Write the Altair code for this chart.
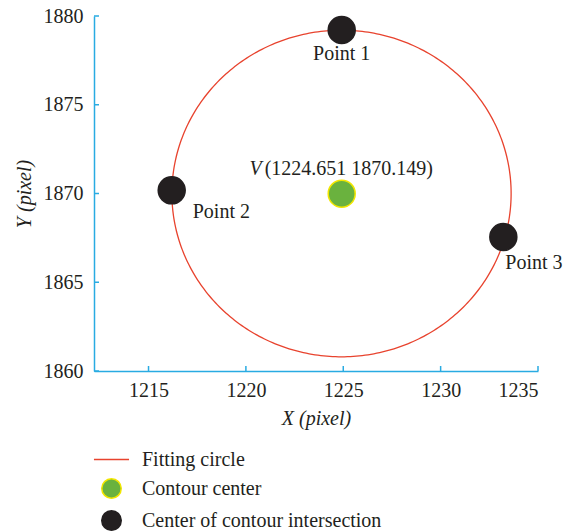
import altair as alt
import numpy as np
import pandas as pd

# ---------------- data ----------------
point_names = ["Point 1", "Point 2", "Point 3"]
point_x = [1224.92, 1216.19, 1233.22]
point_y = [1879.21, 1870.18, 1867.55]
center_x = [1224.92]
center_y = [1869.99]
center_label = "(1224.651 1870.149)"
circle_cx = 1224.91
circle_cy = 1870.0
circle_rx = 8.71
circle_ry = 9.20
series_names = ["Fitting circle", "Contour center", "Center of contour intersection"]
x_ticks = [1215, 1220, 1225, 1230, 1235]
y_ticks = [1860, 1865, 1870, 1875, 1880]
x_domain = [1212.2, 1235.0]
y_domain = [1860, 1880]

# ---------------- styles ----------------
FONT = "Liberation Serif"
FS = 20
TXT = "#231f20"
BLUE = "#29abe2"
RED = "#e8432e"
GREEN = "#6ab23e"
YELLOW = "#f2e600"
BLACK = "#231f20"
W, H = 444, 355

theta = np.linspace(0, 2 * np.pi, 361)
circle_df = pd.DataFrame({
    "x": circle_cx + circle_rx * np.cos(theta),
    "y": circle_cy + circle_ry * np.sin(theta),
    "idx": np.arange(len(theta)),
    "series": series_names[0],
})
pts_df = pd.DataFrame({
    "x": center_x + point_x,
    "y": center_y + point_y,
    "series": [series_names[1]] + [series_names[2]] * len(point_x),
    "name": ["V"] + point_names,
})
xt_df = pd.DataFrame({"v": x_ticks})
yt_df = pd.DataFrame({"v": y_ticks})

xs = alt.Scale(domain=x_domain, nice=False, zero=False)
ys = alt.Scale(domain=y_domain, nice=False, zero=False)

legend = alt.Legend(
    title=None, orient="none", legendX=0, legendY=433, direction="vertical",
    symbolSize=380, symbolStrokeWidth=1.5, labelFont=FONT, labelFontSize=FS,
    labelColor=TXT, labelOffset=20, symbolOffset=7, rowPadding=5, padding=0,
    labelLimit=400,
)
stroke_scale = alt.Scale(domain=series_names, range=[RED, YELLOW, BLACK])
fill_scale = alt.Scale(domain=series_names, range=["transparent", GREEN, BLACK])
shape_scale = alt.Scale(domain=series_names, range=["M-1.8,0H1.8", "circle", "circle"])

x_axis = alt.Axis(values=x_ticks, title="X (pixel)", grid=False, ticks=False, tickSize=0,
                  labelPadding=9, titlePadding=8, format="d")
y_axis = alt.Axis(values=y_ticks, title="Y (pixel)", grid=False, ticks=False, tickSize=0,
                  labelPadding=11, titlePadding=9, format="d")

circle = alt.Chart(circle_df).mark_line(strokeWidth=1.3).encode(
    x=alt.X("x:Q", scale=xs, axis=x_axis),
    y=alt.Y("y:Q", scale=ys, axis=y_axis),
    order="idx:Q",
    stroke=alt.Stroke("series:N", scale=stroke_scale, legend=legend),
)

points = alt.Chart(pts_df).mark_point(filled=True, size=729, strokeWidth=1.5, opacity=1).encode(
    x=alt.X("x:Q", scale=xs),
    y=alt.Y("y:Q", scale=ys),
    fill=alt.Fill("series:N", scale=fill_scale, legend=legend),
    stroke=alt.Stroke("series:N", scale=stroke_scale, legend=legend),
    shape=alt.Shape("series:N", scale=shape_scale, legend=legend),
)

xticks = alt.Chart(xt_df).mark_rule(color=BLUE, strokeWidth=1.5).encode(
    x=alt.X("v:Q", scale=xs), y=alt.value(H), y2=alt.value(H - 5)
)
yticks = alt.Chart(yt_df).mark_rule(color=BLUE, strokeWidth=1.5).encode(
    y=alt.Y("v:Q", scale=ys), x=alt.value(0), x2=alt.value(5)
)


def label(name, text, dx, dy, align, style="normal"):
    return alt.Chart(pts_df).transform_filter(alt.datum.name == name).mark_text(
        text=text, dx=dx, dy=dy, align=align, baseline="middle", font=FONT,
        fontSize=FS, color=TXT, fontStyle=style,
    ).encode(x=alt.X("x:Q", scale=xs), y=alt.Y("y:Q", scale=ys))


labels = [
    label("Point 1", "Point 1", 0, 24, "center"),
    label("Point 2", "Point 2", 21, 22, "left"),
    label("Point 3", "Point 3", 2, 26, "left"),
    label("V", "V", -80, -25, "right", "italic"),
    label("V", center_label, -77, -25, "left"),
]

chart = alt.layer(circle, xticks, yticks, points, *labels).properties(
    width=W, height=H,
    padding={"left": 86, "top": 8, "right": 29, "bottom": 160},
    autosize=alt.AutoSizeParams(type="none"),
).configure_view(stroke=None).configure_axis(
    domainColor=BLUE, domainWidth=1.5, labelFont=FONT, labelFontSize=FS,
    labelColor=TXT, titleFont=FONT, titleFontSize=FS, titleColor=TXT,
    titleFontStyle="italic", titleFontWeight="normal",
)

chart.save("out.html", embed_options={"renderer": "svg", "actions": False})
